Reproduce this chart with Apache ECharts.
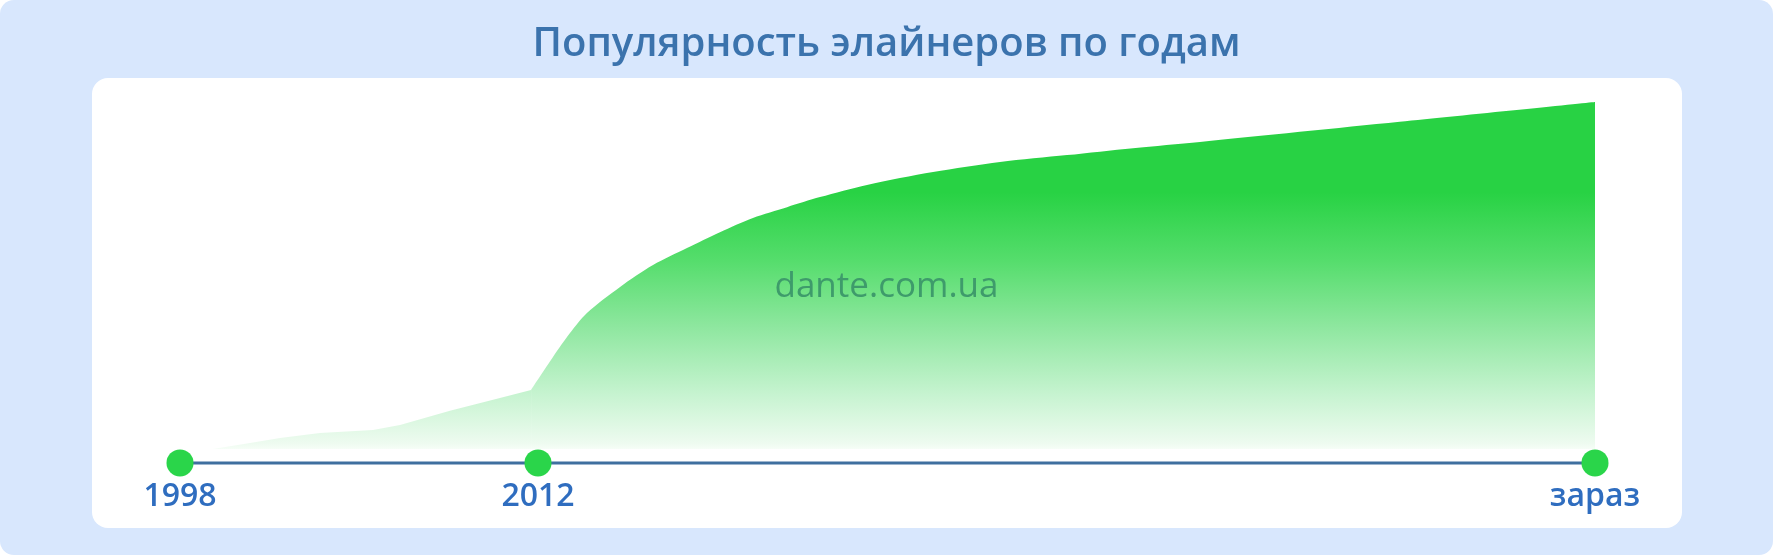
<!DOCTYPE html>
<html>
<head>
<meta charset="utf-8">
<script src="https://cdn.jsdelivr.net/npm/echarts@6/dist/echarts.min.js"></script>
<style>
  html, body { margin: 0; padding: 0; background: #ffffff; }
  #chart { width: 1773px; height: 555px; background: #d8e7fd; border-radius: 14px; overflow: hidden; }
</style>
</head>
<body>
<div id="chart"></div>
<script>
// Timeline milestones (position along timeline 0..100)
const milestoneLabels = ['1998', '2012', 'зараз'];
const milestonePos = [0, 25.3, 100];

// Popularity curve before 2012 (position along timeline, relative popularity 0..100)
const earlyX = [0, 2.33, 4.95, 7.07, 9.89, 13.64, 15.55, 19.08, 22.61, 24.81];
const earlyY = [0, 0, 1.7, 3.2, 4.6, 5.5, 6.9, 11.0, 14.7, 17.0];
// Popularity curve from 2012 to now
const lateX = [24.81, 26.36, 27.56, 28.76, 31.10, 33.43, 35.83, 38.16, 40.49, 42.90, 45.23, 48.55, 53.22, 57.95, 62.69, 67.35, 72.08, 86.2, 100];
const lateY = [17.0, 26.5, 33.4, 39.2, 46.7, 53.0, 57.9, 62.5, 66.6, 69.7, 72.6, 76.1, 79.8, 82.7, 84.7, 86.7, 88.5, 94.3, 100];

const titleText = 'Популярность элайнеров по годам';
const watermark = 'dante.com.ua';
const timelineLevel = -4;

const chart = echarts.init(document.getElementById('chart'), null, { renderer: 'canvas' });

const earlyData = earlyX.map((x, i) => [x, earlyY[i]]);
const lateData = lateX.map((x, i) => [x, lateY[i]]);
const milestoneData = milestonePos.map((x, i) => ({ value: [x, timelineLevel], name: milestoneLabels[i] }));

const fill = {
  type: 'linear', x: 0, y: 170, x2: 0, y2: 452, global: true,
  colorStops: [
    { offset: 0, color: '#28d244' },
    { offset: 0.08, color: '#28d244' },
    { offset: 0.32, color: '#55dd6c' },
    { offset: 0.56, color: '#8fe7a0' },
    { offset: 0.79, color: '#c5f3cf' },
    { offset: 0.97, color: '#eefbf0' },
    { offset: 1, color: '#fbfffb' }
  ]
};

chart.setOption({
  backgroundColor: 'transparent',
  animation: false,
  title: {
    text: titleText,
    left: 'center',
    top: 20,
    textStyle: { fontFamily: 'Open Sans', fontSize: 40, fontWeight: 600, color: '#3b73ad' }
  },
  graphic: [
    {
      type: 'rect', z: 0,
      shape: { x: 92, y: 78, width: 1590, height: 450, r: 16 },
      style: { fill: '#ffffff' }
    },
    {
      type: 'text', z: 100,
      left: 'center', top: 270,
      style: { text: watermark, font: '400 35px "Open Sans"', fill: '#3e9b6b', textAlign: 'center' }
    }
  ],
  grid: { left: 180, right: 178, top: 102, bottom: 71.3 },
  xAxis: { type: 'value', min: 0, max: 100, show: false, splitLine: { show: false } },
  yAxis: { type: 'value', min: -10, max: 100, show: false, splitLine: { show: false } },
  series: [
    {
      type: 'line',
      data: earlyData,
      symbol: 'none',
      smooth: false,
      lineStyle: { width: 0 },
      areaStyle: { opacity: 1, color: fill },
      z: 2
    },
    {
      type: 'line',
      data: lateData,
      symbol: 'none',
      smooth: 0.3,
      lineStyle: { width: 0 },
      areaStyle: { opacity: 1, color: fill },
      z: 2
    },
    {
      type: 'line',
      data: milestoneData,
      symbol: 'circle',
      symbolSize: 27,
      itemStyle: { color: '#2ad54a' },
      lineStyle: { color: '#3f6f9f', width: 3 },
      label: {
        show: true,
        position: 'bottom',
        distance: 5,
        formatter: p => p.name,
        fontFamily: 'Open Sans',
        fontSize: 32,
        fontWeight: 600,
        color: '#2f6dbf'
      },
      z: 3
    }
  ]
});
</script>
</body>
</html>
